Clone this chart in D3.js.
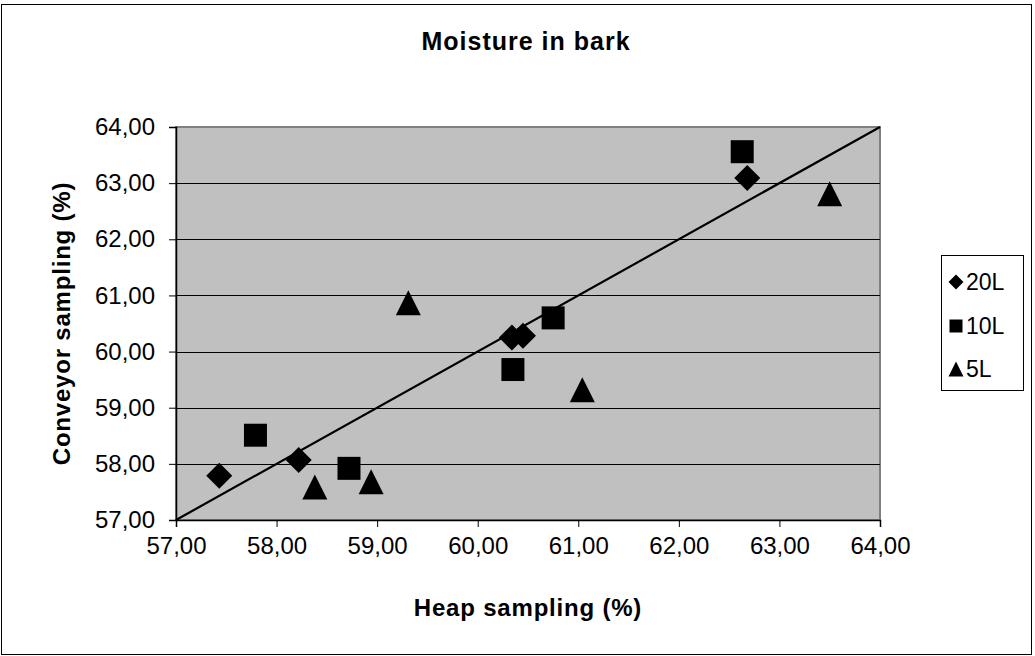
<!DOCTYPE html>
<meta charset="utf-8">
<script src="https://d3js.org/d3.v7.min.js"></script>
<style>
  body { margin: 0; background: #fff; }
  text { font-family: "Liberation Sans", Arial, sans-serif; fill: #000; }
</style>
<div id="my_dataviz"></div>
<script>

// data
var series = ["20L", "10L", "5L"];
var heap20 = [57.43, 58.22, 60.34, 60.45, 62.68];
var conv20 = [57.79, 58.07, 60.25, 60.28, 63.09];
var heap10 = [57.79, 58.72, 60.35, 60.75, 62.63];
var conv10 = [58.51, 57.92, 59.68, 60.60, 63.56];
var heap5  = [58.38, 58.94, 59.31, 61.04, 63.50];
var conv5  = [57.59, 57.68, 60.87, 59.32, 62.81];
var ticks = [57, 58, 59, 60, 61, 62, 63, 64];
var refLine = [57, 64];

var W = 1035, H = 656;
var plot = {left: 176, top: 127, right: 880, bottom: 520};

var svg = d3.select("#my_dataviz")
  .append("svg")
    .attr("width", W)
    .attr("height", H);

// outer chart border
svg.append("rect")
  .attr("x", 1.5).attr("y", 4.5)
  .attr("width", 1030).attr("height", 650)
  .attr("fill", "#fff")
  .attr("stroke", "#000")
  .attr("stroke-width", 1);

var x = d3.scaleLinear().domain([57, 64]).range([plot.left, plot.right]);
var y = d3.scaleLinear().domain([57, 64]).range([plot.bottom, plot.top]);

var fmt = function(d) { return d3.format(".2f")(d).replace(".", ","); };

// plot area
svg.append("rect")
  .attr("x", plot.left).attr("y", plot.top)
  .attr("width", plot.right - plot.left)
  .attr("height", plot.bottom - plot.top)
  .attr("fill", "#c0c0c0")
  .attr("stroke", "#808080")
  .attr("stroke-width", 2);

// gridlines
svg.append("g")
  .selectAll("line")
  .data(ticks.slice(1, -1))
  .enter()
  .append("line")
    .attr("x1", plot.left).attr("x2", plot.right)
    .attr("y1", function(d) { return Math.round(y(d)) + 0.5; })
    .attr("y2", function(d) { return Math.round(y(d)) + 0.5; })
    .attr("stroke", "#000")
    .attr("stroke-width", 1);

// axes
var yAxis = svg.append("g")
  .attr("transform", "translate(" + plot.left + ",0)")
  .call(d3.axisLeft(y).tickValues(ticks).tickFormat(fmt).tickSize(7).tickPadding(14));
var xAxis = svg.append("g")
  .attr("transform", "translate(0," + plot.bottom + ")")
  .call(d3.axisBottom(x).tickValues(ticks).tickFormat(fmt).tickSize(7).tickPadding(10));

[xAxis, yAxis].forEach(function(a) {
  a.select(".domain").attr("stroke", "#000").attr("stroke-width", 1.5);
  a.selectAll(".tick line").attr("stroke", "#000");
  a.selectAll(".tick text")
    .style("font-family", "'Liberation Sans', Arial, sans-serif")
    .style("font-size", "24px")
    .attr("fill", "#000");
});

// 1:1 line
svg.append("line")
  .attr("x1", x(refLine[0])).attr("y1", y(refLine[0]))
  .attr("x2", x(refLine[1])).attr("y2", y(refLine[1]))
  .attr("stroke", "#000")
  .attr("stroke-width", 2.2);

// marker shapes
var shapes = {
  "20L": function(s) { var r = s / 2; return "M0," + (-r) + "L" + r + ",0L0," + r + "L" + (-r) + ",0Z"; },
  "10L": function(s) { var r = s / 2; return "M" + (-r) + "," + (-r) + "H" + r + "V" + r + "H" + (-r) + "Z"; },
  "5L":  function(s) { var r = s / 2; return "M0," + (-r) + "L" + r + "," + r + "H" + (-r) + "Z"; }
};
var sizes = {"20L": 26, "10L": 23, "5L": 25};
var legendSizes = {"20L": 15, "10L": 13, "5L": 15};

var data = [
  {name: "20L", xs: heap20, ys: conv20},
  {name: "10L", xs: heap10, ys: conv10},
  {name: "5L",  xs: heap5,  ys: conv5}
];

data.forEach(function(s) {
  svg.append("g")
    .selectAll("path")
    .data(s.xs.map(function(v, i) { return [v, s.ys[i]]; }))
    .enter()
    .append("path")
      .attr("transform", function(d) { return "translate(" + x(d[0]) + "," + y(d[1]) + ")"; })
      .attr("d", shapes[s.name](sizes[s.name]))
      .attr("fill", "#000");
});

// titles
svg.append("text")
  .attr("x", 526).attr("y", 50)
  .attr("text-anchor", "middle")
  .style("font-size", "25px").style("font-weight", "bold").style("letter-spacing", "1px")
  .text("Moisture in bark");

svg.append("text")
  .attr("x", (plot.left + plot.right) / 2).attr("y", 616)
  .attr("text-anchor", "middle")
  .style("font-size", "24px").style("font-weight", "bold").style("letter-spacing", "0.8px")
  .text("Heap sampling (%)");

svg.append("text")
  .attr("transform", "translate(70," + ((plot.top + plot.bottom) / 2) + ") rotate(-90)")
  .attr("text-anchor", "middle")
  .style("font-size", "24px").style("font-weight", "bold").style("letter-spacing", "0.8px")
  .text("Conveyor sampling (%)");

// legend
var legend = svg.append("g");
legend.append("rect")
  .attr("x", 941.5).attr("y", 255.5)
  .attr("width", 82).attr("height", 135)
  .attr("fill", "#fff")
  .attr("stroke", "#000")
  .attr("stroke-width", 1);

var legendY = [282, 326, 369];
series.forEach(function(name, i) {
  legend.append("path")
    .attr("transform", "translate(956," + legendY[i] + ")")
    .attr("d", shapes[name](legendSizes[name]))
    .attr("fill", "#000");
  legend.append("text")
    .attr("x", 966).attr("y", legendY[i] + 8)
    .style("font-size", "23px")
    .text(name);
});

</script>
